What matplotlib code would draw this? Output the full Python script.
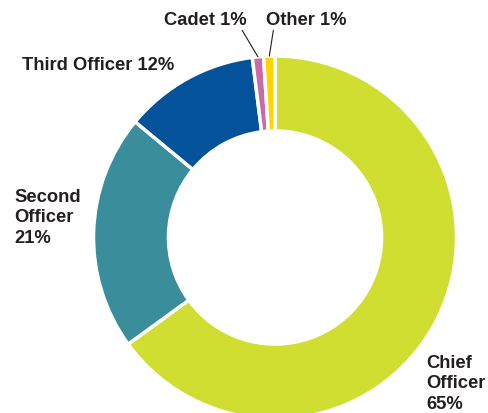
import numpy as np
import matplotlib
matplotlib.use("Agg")
import matplotlib.pyplot as plt

categories = ["Chief Officer", "Second Officer", "Third Officer", "Cadet", "Other"]
values = [65, 21, 12, 1, 1]
colors = ["#D0DE31", "#3A8E9C", "#03529A", "#C96BA6", "#FFD400"]

W, H = 488, 414
fig = plt.figure(figsize=(W / 100, H / 100), dpi=100)
ax = fig.add_axes([0, 0, 1, 1])
cx, cy, R = 275, H - 238.5, 181.5

wedges, _ = ax.pie(values, colors=colors, startangle=90, counterclock=False,
                   center=(cx, cy), radius=R,
                   wedgeprops=dict(width=R * 0.413, edgecolor="white", linewidth=2.5))
ax.set_xlim(0, W)
ax.set_ylim(0, H)
ax.set_aspect("equal")
ax.axis("off")

font = dict(family=["Liberation Sans", "DejaVu Sans"], fontweight="bold",
            fontsize=13.2, color="#231F20")

def pct(i):
    return f"{values[i]}%"

ax.text(426, H - 384, f"Chief\nOfficer\n{pct(0)}", ha="left", va="center",
        linespacing=1.3, **font)
ax.text(14, H - 218, f"Second\nOfficer\n{pct(1)}", ha="left", va="center",
        linespacing=1.3, **font)
ax.text(22, H - 66, f"{categories[2]} {pct(2)}", ha="left", va="center", **font)

def outer_point(w):
    th = np.deg2rad((w.theta1 + w.theta2) / 2)
    return cx + R * np.cos(th), cy + R * np.sin(th)

ax.annotate(f"{categories[3]} {pct(3)}", xy=outer_point(wedges[3]), xytext=(205, H - 20),
            ha="center", va="center", **font,
            arrowprops=dict(arrowstyle="-", color="#231F20", lw=0.8,
                            shrinkA=0, shrinkB=0, relpos=(0.93, 0)))
ax.annotate(f"{categories[4]} {pct(4)}", xy=outer_point(wedges[4]), xytext=(306, H - 20),
            ha="center", va="center", **font,
            arrowprops=dict(arrowstyle="-", color="#231F20", lw=0.8,
                            shrinkA=0, shrinkB=0, relpos=(0.1, 0)))

fig.savefig("out.png", dpi=100)
